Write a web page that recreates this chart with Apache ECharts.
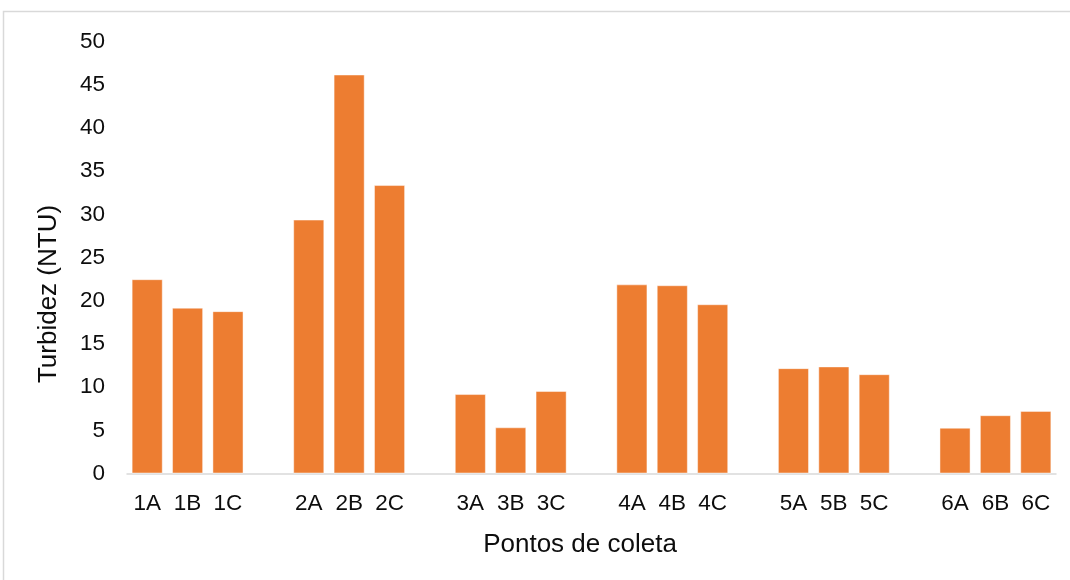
<!DOCTYPE html>
<html>
<head>
<meta charset="utf-8">
<title>Turbidez por ponto de coleta</title>
<script src="https://cdn.jsdelivr.net/npm/echarts@6/dist/echarts.min.js"></script>
<style>
  html, body { margin: 0; padding: 0; background: #ffffff; }
  #chart { width: 1070px; height: 580px; }
</style>
</head>
<body>
<div id="chart"></div>
<script>
// Sampling points, grouped by site (a blank slot separates each site)
const siteGroups = [
  ['1A', '1B', '1C'],
  ['2A', '2B', '2C'],
  ['3A', '3B', '3C'],
  ['4A', '4B', '4C'],
  ['5A', '5B', '5C'],
  ['6A', '6B', '6C']
];

// Turbidity (NTU) for each sampling point, same grouping
const turbidity = [
  [22.5, 19.2, 18.8],
  [29.4, 46.2, 33.4],
  [9.2, 5.35, 9.55],
  [21.9, 21.8, 19.6],
  [12.2, 12.4, 11.5],
  [5.3, 6.75, 7.25]
];

const yTicks = { min: 0, max: 50, interval: 5 };
const xTitle = 'Pontos de coleta';
const yTitle = 'Turbidez (NTU)';

// Flatten groups into one category axis with an empty slot between sites
const categories = [];
const values = [];
siteGroups.forEach((group, g) => {
  if (g > 0) { categories.push(''); values.push(null); }
  group.forEach((name, i) => {
    categories.push(name);
    values.push(turbidity[g][i]);
  });
});

const FONT = '"Liberation Sans", Arial, sans-serif';
const TEXT = '#0d0d0d';

const chart = echarts.init(document.getElementById('chart'), null, { renderer: 'canvas' });

chart.setOption({
  backgroundColor: '#ffffff',
  animation: false,
  grid: { left: 127, right: 14, top: 41.7, bottom: 106.5, containLabel: false },
  xAxis: {
    type: 'category',
    data: categories,
    axisLine: { show: true, lineStyle: { color: '#d9d9d9', width: 1.5 } },
    axisTick: { show: false },
    axisLabel: { interval: 0, margin: 19, fontSize: 22.5, fontFamily: FONT, color: TEXT },
    splitLine: { show: false }
  },
  yAxis: {
    type: 'value',
    min: yTicks.min,
    max: yTicks.max,
    interval: yTicks.interval,
    axisLine: { show: false },
    axisTick: { show: false },
    axisLabel: { margin: 22, fontSize: 22.5, fontFamily: FONT, color: TEXT },
    splitLine: { show: false }
  },
  series: [{
    type: 'bar',
    data: values,
    barCategoryGap: '23%',
    itemStyle: {
      color: '#ed7d31',
      borderColor: 'rgba(255,255,255,0.45)',
      borderWidth: 1
    }
  }],
  graphic: [
    {
      type: 'rect',
      silent: true,
      shape: { x: 3.5, y: 11.5, width: 1200, height: 700 },
      style: { fill: 'none', stroke: '#d9d9d9', lineWidth: 1.5 }
    },
    {
      type: 'text',
      silent: true,
      x: 49, y: 294,
      rotation: Math.PI / 2,
      style: {
        text: yTitle, fontSize: 26, fontFamily: FONT, fill: TEXT,
        textAlign: 'center', textVerticalAlign: 'middle'
      }
    },
    {
      type: 'text',
      silent: true,
      x: 580, y: 545,
      style: {
        text: xTitle, fontSize: 26, fontFamily: FONT, fill: TEXT,
        textAlign: 'center', textVerticalAlign: 'middle'
      }
    }
  ]
});
</script>
</body>
</html>
